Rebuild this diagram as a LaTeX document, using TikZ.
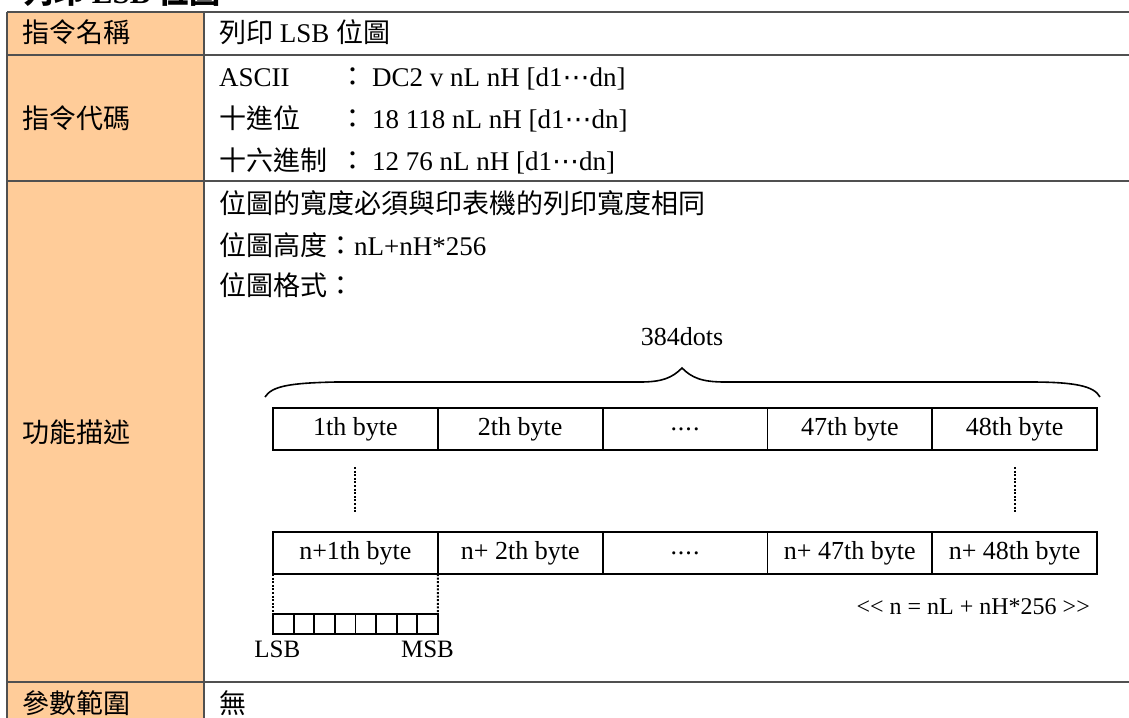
\documentclass[tikz,border=0pt]{standalone}
\usepackage{fontspec}
\setmainfont{Liberation Serif}
\newfontfamily\cjk{Noto Sans CJK TC}
\newfontfamily\symfont{DejaVu Sans}
\newcommand{\zh}[1]{{\cjk #1}}
\newcommand{\midots}{{\symfont ⋯}}
\usepackage{xcolor}
\usetikzlibrary{positioning}
\definecolor{headfill}{HTML}{FFCC99}
\definecolor{rulegray}{HTML}{505050}

\begin{document}
\begin{tikzpicture}[x=1pt, y=-1pt, node distance = 0pt]
  \tikzstyle{cell} = [draw=black, line width=1.8pt, outer sep=0pt, inner sep=0pt, minimum width=164.8pt, minimum height=42pt, font=\fontsize{26}{30}\selectfont]
  \tikzstyle{bit} = [draw=black, line width=1.8pt, outer sep=0pt, inner sep=0pt, minimum width=20.6pt, minimum height=20pt]
  \tikzstyle{txt} = [anchor=base west, inner sep=0pt, font=\fontsize{27}{32}\selectfont]
  \tikzstyle{small} = [inner sep=0pt, font=\fontsize{25}{30}\selectfont]
  \tikzstyle{rule} = [draw=rulegray, line width=1.8pt]
  \tikzstyle{dotted link} = [line width=2pt, dash pattern=on 2pt off 1.6pt]

  \useasboundingbox (0,0) rectangle (1129,717);
  \begin{scope}
    \clip (0,0) rectangle (1129,717);
    \fill [headfill] (7,12) rectangle (204,730);
    \draw [rule] (7,12) -- (1140,12);
    \draw [rule] (7,55) -- (1140,55);
    \draw [rule] (7,181) -- (1140,181);
    \draw [rule] (7,682) -- (1140,682);
    \draw [rule] (7,12) -- (7,730);
    \draw [rule] (204,12) -- (204,730);
  \end{scope}

  % title, cut by the top edge
  \node [txt, font=\fontsize{31}{36}\selectfont\bfseries] (title) at (22,4) {\zh{列印} LSB \zh{位圖}};

  % table rows
  \node [txt] (nameHead) at (22,43) {\zh{指令名稱}};
  \node [txt] (nameBody) at (219,43) {\zh{列印} LSB \zh{位圖}};

  \node [txt] (codeHead) at (22,128) {\zh{指令代碼}};
  \node [txt] (ascii) at (219,86) {ASCII};
  \node [txt] (dec) at (219,128) {\zh{十進位}};
  \node [txt] (hex) at (219,170) {\zh{十六進制}};
  \node [txt, anchor=base] (asciiColon) at (353,86) {\zh{：}};
  \node [txt, anchor=base] (decColon) at (353,128) {\zh{：}};
  \node [txt, anchor=base] (hexColon) at (353,170) {\zh{：}};
  \node [txt] (asciiCode) at (372,86) {DC2 v nL nH [d1\midots dn]};
  \node [txt] (decCode) at (372,128) {18 118 nL nH [d1\midots dn]};
  \node [txt] (hexCode) at (372,170) {12 76 nL nH [d1\midots dn]};

  \node [txt] (funcHead) at (22,442) {\zh{功能描述}};
  \node [txt] (widthNote) at (219,213) {\zh{位圖的寬度必須與印表機的列印寬度相同}};
  \node [txt] (heightNote) at (219,255) {\zh{位圖高度：}nL+nH*256};
  \node [txt] (formatNote) at (219,295) {\zh{位圖格式：}};

  \node [txt] (rangeHead) at (22,713) {\zh{參數範圍}};
  \node [txt] (rangeBody) at (219,713) {\zh{無}};

  % bitmap format
  \node [cell] (B1) at (355.4,429) {1th byte};
  \node [cell, right = of B1] (B2) {2th byte};
  \node [cell, right = of B2] (B3) {.\kern1pt.\kern1pt.\kern1pt.};
  \node [cell, right = of B3] (B4) {47th byte};
  \node [cell, right = of B4] (B5) {48th byte};

  \node [cell, below = 82pt of B1] (N1) {n+1th byte};
  \node [cell, right = of N1] (N2) {n+ 2th byte};
  \node [cell, right = of N2] (N3) {.\kern1pt.\kern1pt.\kern1pt.};
  \node [cell, right = of N3] (N4) {n+ 47th byte};
  \node [cell, right = of N4] (N5) {n+ 48th byte};

  \foreach \i in {1,...,8}
    \node [bit] (bit\i) at ({273+20.6*\i-10.3}, 624) {};
  \node [small, below = 7pt of bit1.south, xshift=-6pt] (lsb) {LSB};
  \node [small, below = 7pt of bit8.south] (msb) {MSB};

  \node [small, font=\fontsize{26}{30}\selectfont] (dots) at (682,337) {384dots};
  \node [small, font=\fontsize{24}{28}\selectfont, anchor=base east] (formula) at (1090,614) {\textless\kern0pt\textless\ n = nL + nH*256 \textgreater\kern0pt\textgreater};

  \draw [line width=1.6pt] (265,397) .. controls (272,386) and (290,383) .. (336,382) -- (640,382)
    .. controls (662,382) and (672,378) .. (682,368) .. controls (692,378) and (702,382) .. (725,382)
    -- (1030,382) .. controls (1075,382) and (1094,386) .. (1100,397);

  \draw [dotted link] ([yshift=-17pt]B1.south) -- ([yshift=19pt]N1.north);
  \draw [dotted link] ([yshift=-17pt]B5.south) -- ([yshift=19pt]N5.north);
  \draw [dotted link] (N1.south west) -- (bit1.north west);
  \draw [dotted link] (N1.south east) -- (bit8.north east);
\end{tikzpicture}
\end{document}
